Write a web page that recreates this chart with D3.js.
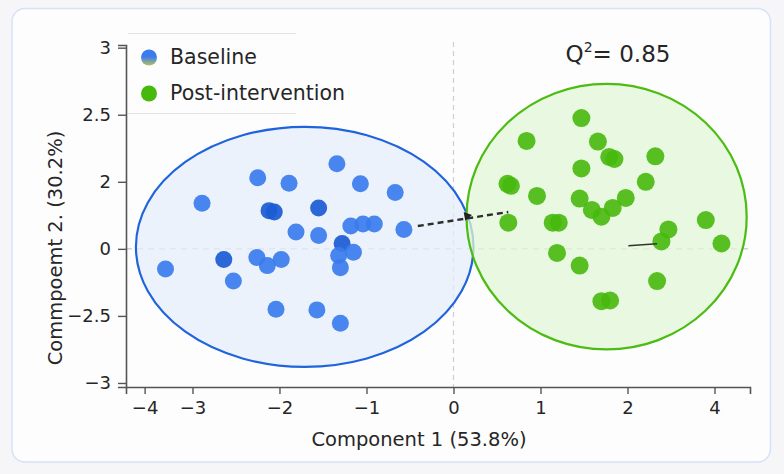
<!DOCTYPE html>
<html>
<head>
<meta charset="utf-8">
<script src="https://cdn.jsdelivr.net/npm/d3@7"></script>
<style>
  html, body { margin: 0; padding: 0; background: #f6f6f9; }
  svg { display: block; font-family: "DejaVu Sans", "Open Sans", sans-serif; }
</style>
</head>
<body>
<div id="chart"></div>
<script>
// Component scores (axis units as drawn on the plot)
const baselineX = [-2.89, -2.25, -1.89, -1.34, -1.07, -0.67, -2.12, -2.06, -1.55, -1.81, -1.55, -1.18, -1.04, -0.91,
  -0.57, -1.28, -1.15, -1.32, -1.30, -3.31, -2.64, -2.53, -2.26, -2.14, -1.98, -2.04, -1.57, -1.30];
const baselineY = [0.68, 1.06, 0.98, 1.27, 0.97, 0.84, 0.57, 0.55, 0.61, 0.25, 0.20, 0.34, 0.37, 0.37,
  0.29, 0.08, -0.05, -0.10, -0.28, -0.30, -0.16, -0.48, -0.13, -0.25, -0.16, -0.90, -0.91, -1.11];
const baselineDark = [7, 8, 9, 16, 21];   // darker dots (1-based)

const postX = [1.47, 0.84, 1.66, 2.32, 1.79, 1.85, 1.47, 0.62, 0.66, 0.96, 2.21, 1.45, 1.59, 1.70,
  1.83, 1.98, 0.63, 1.14, 1.21, 2.90, 2.47, 2.39, 3.08, 1.19, 1.45, 2.34, 1.70, 1.80];
const postY = [1.95, 1.61, 1.60, 1.38, 1.37, 1.34, 1.20, 0.97, 0.94, 0.79, 1.00, 0.75, 0.58, 0.48,
  0.61, 0.76, 0.39, 0.39, 0.39, 0.43, 0.29, 0.11, 0.08, -0.06, -0.25, -0.48, -0.78, -0.77];

// confidence ellipses: [cx, cy, rx, ry]
const baselineEllipse = [-1.71, 0.03, 1.94, 1.79];
const postEllipse = [1.76, 0.48, 1.61, 1.98];

// centroid shift line and marker
const shiftLine = [[-0.41, 0.34], [0.63, 0.55]];
const shiftMarker = [0.155, 0.49];
const shortLine = [[2.01, 0.045], [2.34, 0.075]];

const xTickValues = [-3.55, -3, -2, -1, 0, 1, 2, 3];
const xTickLabels = ['\u22124', '\u22123', '\u22122', '\u22121', '0', '1', '2', '4'];
const yTickValues = [3, 2, 1, 0, -1, -2];
const yTickLabels = ['3', '2.5', '2', '0', '\u22122.5', '\u22123'];

const width = 784, height = 474;
const textColor = '#262626';
const svg = d3.select('#chart').append('svg')
  .attr('width', width).attr('height', height);

const defs = svg.append('defs');
const grad = defs.append('linearGradient').attr('id', 'legendBase')
  .attr('x1', 0).attr('y1', 0).attr('x2', 0).attr('y2', 1);
grad.append('stop').attr('offset', '45%').attr('stop-color', '#3a7cee');
grad.append('stop').attr('offset', '100%').attr('stop-color', '#b8c25a');

// card
svg.append('rect')
  .attr('x', 12).attr('y', 8.5).attr('width', 758.5).attr('height', 453.5)
  .attr('rx', 13)
  .attr('fill', '#fdfdfe')
  .attr('stroke', '#d3e3f8').attr('stroke-width', 1.5);

const x = d3.scaleLinear().domain([-3.764, 3.408]).range([126, 750]);
const y = d3.scaleLinear().domain([-2.06, 3.04]).range([387, 45]);

// zero reference lines
svg.append('line')
  .attr('x1', x(0)).attr('x2', x(0)).attr('y1', 42).attr('y2', y(-2.06))
  .attr('stroke', '#cfcfcf').attr('stroke-width', 1.2).attr('stroke-dasharray', '5,4');
svg.append('line')
  .attr('x1', 126).attr('x2', 750).attr('y1', y(0)).attr('y2', y(0))
  .attr('stroke', '#d2d2d2').attr('stroke-width', 1.5).attr('stroke-dasharray', '6,5');

function drawEllipse(e, fill, stroke) {
  svg.append('ellipse')
    .attr('cx', x(e[0])).attr('cy', y(e[1]))
    .attr('rx', x(e[0] + e[2]) - x(e[0]))
    .attr('ry', y(e[1]) - y(e[1] + e[3]))
    .attr('fill', fill).attr('fill-opacity', 0.75)
    .attr('stroke', stroke).attr('stroke-width', 2.2);
}
drawEllipse(baselineEllipse, '#e6edfa', '#1f64dc');
drawEllipse(postEllipse, '#e2f6d6', '#4cbc12');

// points
const baseline = baselineX.map((v, i) => ({ x: v, y: baselineY[i], dark: baselineDark.includes(i + 1) }));
const post = postX.map((v, i) => ({ x: v, y: postY[i] }));

svg.append('g').selectAll('circle')
  .data(baseline).enter().append('circle')
  .attr('cx', d => x(d.x)).attr('cy', d => y(d.y))
  .attr('r', 8.5)
  .attr('fill', d => d.dark ? '#1b5bd4' : '#3a7cee')
  .attr('fill-opacity', 0.92);

svg.append('g').selectAll('circle')
  .data(post).enter().append('circle')
  .attr('cx', d => x(d.x)).attr('cy', d => y(d.y))
  .attr('r', 9)
  .attr('fill', '#47b80c')
  .attr('fill-opacity', 0.9);

// shift line
svg.append('line')
  .attr('x1', x(shiftLine[0][0])).attr('y1', y(shiftLine[0][1]))
  .attr('x2', x(shiftLine[1][0])).attr('y2', y(shiftLine[1][1]))
  .attr('stroke', '#2e2e2e').attr('stroke-width', 2.4).attr('stroke-dasharray', '6,4');
svg.append('path')
  .attr('d', d3.symbol().type(d3.symbolTriangle).size(34))
  .attr('transform', `translate(${x(shiftMarker[0])},${y(shiftMarker[1])}) rotate(80)`)
  .attr('fill', '#222');
svg.append('line')
  .attr('x1', x(shortLine[0][0])).attr('y1', y(shortLine[0][1]))
  .attr('x2', x(shortLine[1][0])).attr('y2', y(shortLine[1][1]))
  .attr('stroke', '#333').attr('stroke-width', 1.5);

// axes
const xAxis = svg.append('g')
  .attr('transform', `translate(0,387)`)
  .call(d3.axisBottom(x).tickValues(xTickValues).tickFormat((d, i) => xTickLabels[i]).tickSizeOuter(0).tickSize(7).tickPadding(7));
const yAxis = svg.append('g')
  .attr('transform', `translate(126,0)`)
  .call(d3.axisLeft(y).tickValues(yTickValues).tickFormat((d, i) => yTickLabels[i]).tickSizeOuter(0).tickSize(8).tickPadding(7));
[xAxis, yAxis].forEach(g => {
  g.select('.domain').attr('stroke', '#555').attr('stroke-width', 1.6);
  g.selectAll('.tick line').attr('stroke', '#555').attr('stroke-width', 1.4);
  g.selectAll('.tick text').attr('fill', textColor)
    .style('font-size', '18px').style('font-family', '"DejaVu Sans", sans-serif');
});

// axis titles
svg.append('text')
  .attr('x', 419).attr('y', 446)
  .attr('text-anchor', 'middle')
  .style('font-size', '19.5px').attr('fill', textColor)
  .text('Component 1 (53.8%)');
svg.append('text')
  .attr('transform', 'translate(62,248) rotate(-90)')
  .attr('text-anchor', 'middle')
  .style('font-size', '19.5px').attr('fill', textColor)
  .text('Commpoemt 2. (30.2%)');

// Q2 annotation
const q = svg.append('text')
  .attr('x', 618).attr('y', 62)
  .attr('text-anchor', 'middle')
  .style('font-size', '23px').attr('fill', textColor);
q.append('tspan').text('Q');
q.append('tspan').attr('dy', -10).style('font-size', '14px').text('2');
q.append('tspan').attr('dy', 10).text('= 0.85');

// legend
const legend = svg.append('g');
legend.append('rect')
  .attr('x', 128).attr('y', 33).attr('width', 168).attr('height', 80)
  .attr('fill', '#fdfdfe');
legend.append('line').attr('x1', 128).attr('x2', 296).attr('y1', 33.5).attr('y2', 33.5)
  .attr('stroke', '#e2e2e2').attr('stroke-width', 1.2);
legend.append('line').attr('x1', 128).attr('x2', 296).attr('y1', 113.5).attr('y2', 113.5)
  .attr('stroke', '#e2e2e2').attr('stroke-width', 1.2);
const legendItems = [
  { label: 'Baseline', color: 'url(#legendBase)' },
  { label: 'Post-intervention', color: '#47b80c' }
];
legendItems.forEach((it, i) => {
  legend.append('circle')
    .attr('cx', 149).attr('cy', 57.5 + i * 36).attr('r', 8)
    .attr('fill', it.color);
  legend.append('text')
    .attr('x', 170).attr('y', 64 + i * 36)
    .style('font-size', '20.5px').attr('fill', textColor)
    .text(it.label);
});
</script>
</body>
</html>
